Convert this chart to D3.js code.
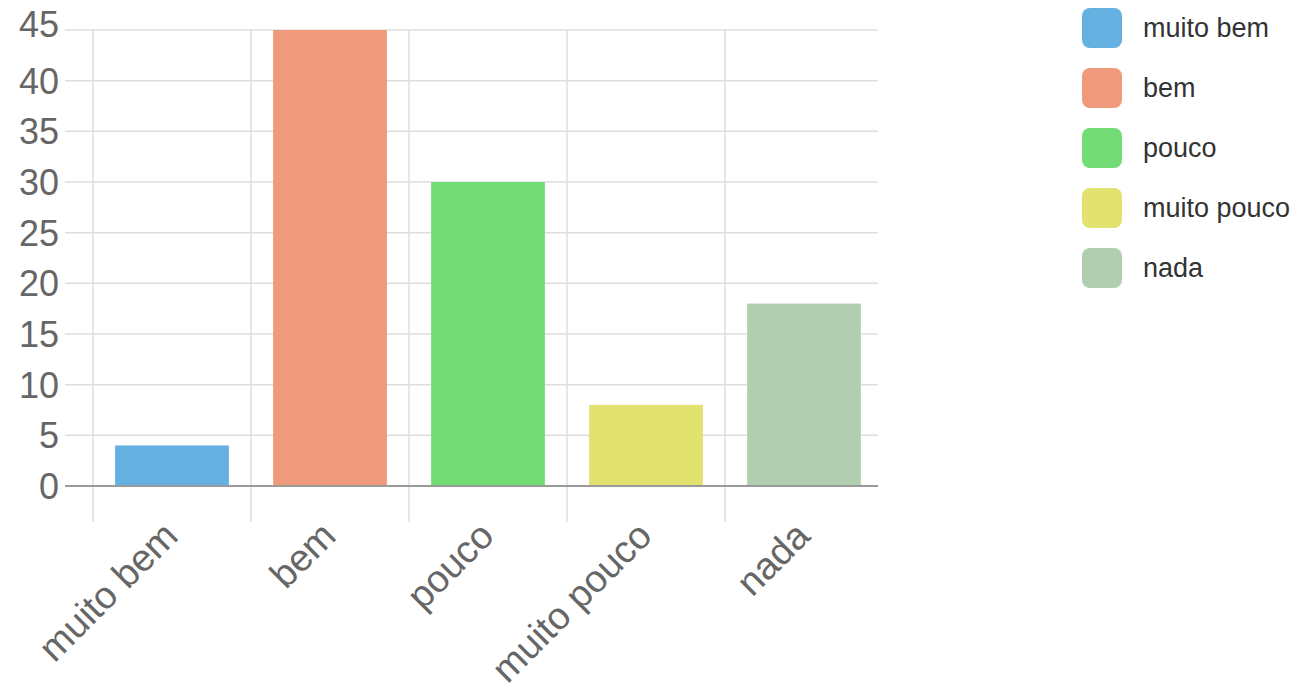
<!DOCTYPE html>
<html><head><meta charset="utf-8">
<script src="https://cdn.jsdelivr.net/npm/d3@7"></script>
<style>html,body{margin:0;padding:0;background:#fff;}svg{display:block;font-family:"Liberation Sans",Arial,sans-serif;}</style>
</head><body>
<svg id="c" width="1299" height="698"></svg>
<script>
(function(){
const categories = ["muito bem", "bem", "pouco", "muito pouco", "nada"];
const values = [4, 45, 30, 8, 18];
const colors = ["#64b0e0", "#f0997b", "#74dc74", "#e2e270", "#b1ceb0"];
const yTicks = [0, 5, 10, 15, 20, 25, 30, 35, 40, 45];

const svg = d3.select("#c");
const mLeft = 93, mRight = 883, gridRight = 878, mTop = 30, mBottom = 486;
const x = d3.scaleBand().domain(categories).range([mLeft, mRight]).paddingInner(0).paddingOuter(0);
const y = d3.scaleLinear().domain([0, 45]).range([mBottom, mTop]);

// horizontal grid
svg.append("g").selectAll("line").data(yTicks).join("line")
  .attr("x1", mLeft - 28).attr("x2", gridRight)
  .attr("y1", d => y(d)).attr("y2", d => y(d))
  .attr("stroke", d => d === 0 ? "#9a9a9a" : "#dedede").attr("stroke-width", d => d === 0 ? 2 : 1.5);

// vertical grid at category boundaries
svg.append("g").selectAll("line").data(categories).join("line")
  .attr("x1", d => x(d)).attr("x2", d => x(d))
  .attr("y1", mTop).attr("y2", mBottom + 36)
  .attr("stroke", "#dedede").attr("stroke-width", 1.5);

// bars
const bw = x.bandwidth() * 0.72;
svg.append("g").selectAll("rect").data(categories).join("rect")
  .attr("x", d => x(d) + (x.bandwidth() - bw) / 2)
  .attr("width", bw)
  .attr("y", (d, i) => y(values[i]))
  .attr("height", (d, i) => y(0) - y(values[i]))
  .attr("fill", (d, i) => colors[i]);

// zero line on top
svg.append("line").attr("x1", mLeft - 28).attr("x2", gridRight).attr("y1", y(0)).attr("y2", y(0))
  .attr("stroke", "#9a9a9a").attr("stroke-width", 2);

// y labels
svg.append("g").selectAll("text").data(yTicks).join("text")
  .attr("x", 59).attr("y", d => y(d) - (d === 45 ? 6 : 0)).attr("dy", "0.36em")
  .attr("text-anchor", "end").attr("font-size", 36).attr("fill", "#666")
  .text(d => d);

// x labels
svg.append("g").selectAll("text").data(categories).join("text")
  .attr("transform", d => `translate(${x(d) + x.bandwidth() / 2 + 8},${mBottom + 52}) rotate(-45)`)
  .attr("text-anchor", "end").attr("font-size", 38).attr("fill", "#666")
  .text(d => d);

// legend
const lg = svg.append("g");
lg.selectAll("rect").data(categories).join("rect")
  .attr("x", 1082).attr("y", (d, i) => 8 + i * 60)
  .attr("width", 40).attr("height", 40).attr("rx", 8)
  .attr("fill", (d, i) => colors[i]);
lg.selectAll("text").data(categories).join("text")
  .attr("x", 1143).attr("y", (d, i) => 28 + i * 60).attr("dy", "0.35em")
  .attr("font-size", 27).attr("fill", "#333")
  .text(d => d);
})();
</script>
</body></html>
